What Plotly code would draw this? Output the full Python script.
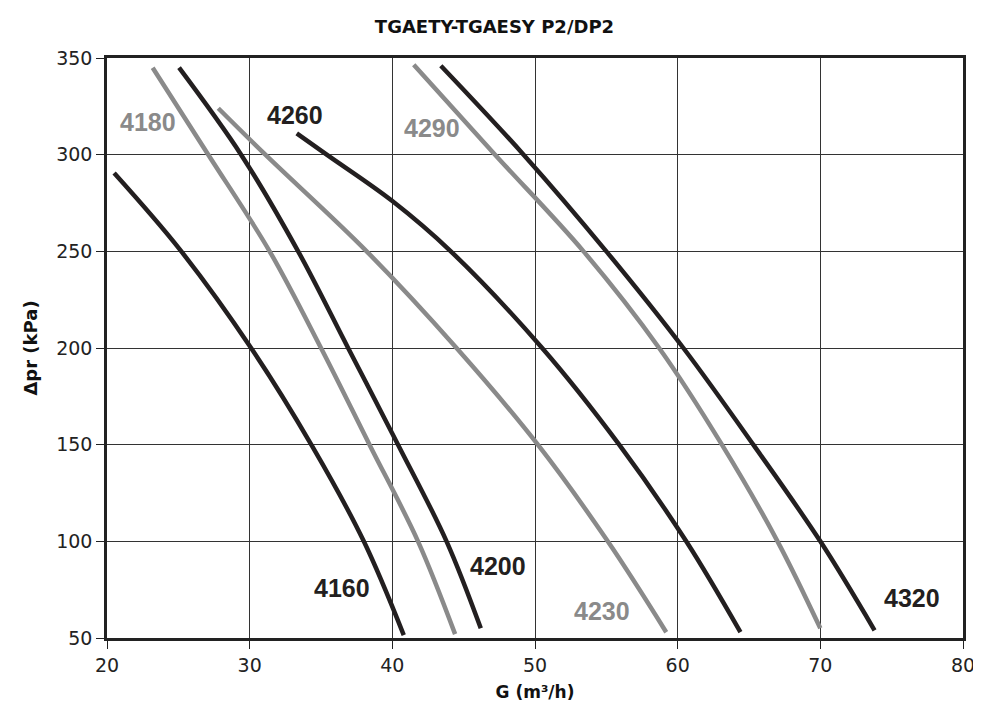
import plotly.graph_objects as go

# Curve data
x_4160 = [20.5, 25.1, 30.1, 34.4, 38.0, 40.8]
y_4160 = [290.5, 251, 200, 149, 100, 51.5]

x_4180 = [23.2, 27.1, 31.4, 35.0, 38.4, 41.8, 44.4]
y_4180 = [345, 300, 250, 200, 150, 100, 52]

x_4200 = [25.05, 29.4, 33.4, 36.9, 40.4, 43.8, 46.2]
y_4200 = [345, 300, 250, 200, 150, 100, 55]

x_4230 = [27.8, 31.1, 38.2, 44.5, 50.2, 55.1, 59.2]
y_4230 = [324, 300, 250, 200, 150, 100, 53]

x_4260 = [33.3, 35.4, 40.0, 44.1, 50.5, 55.9, 60.6, 64.4]
y_4260 = [311, 300, 276, 250, 200, 150, 100, 53]

x_4290 = [41.5, 47.2, 53.4, 58.7, 63.1, 67.0, 70.0]
y_4290 = [346.5, 300, 250, 200, 150, 100, 55]

x_4320 = [43.4, 49.2, 55.0, 60.4, 65.3, 70.0, 73.8]
y_4320 = [346, 300, 250, 200, 150, 100, 54]

series_names = ["4160", "4180", "4200", "4230", "4260", "4290", "4320"]
label_x = [36.5, 22.85, 47.4, 54.7, 33.2, 42.8, 76.4]
label_y = [75.7, 316.7, 87, 64, 320.3, 313.6, 70.8]

x_ticks = [20, 30, 40, 50, 60, 70, 80]
y_ticks = [50, 100, 150, 200, 250, 300, 350]

BLACK = "#231f20"
GRAY = "#8a8a8a"

data = [
    (x_4160, y_4160, BLACK),
    (x_4180, y_4180, GRAY),
    (x_4200, y_4200, BLACK),
    (x_4230, y_4230, GRAY),
    (x_4260, y_4260, BLACK),
    (x_4290, y_4290, GRAY),
    (x_4320, y_4320, BLACK),
]

fig = go.Figure()
for (xs, ys, col), name in zip(data, series_names):
    fig.add_trace(go.Scatter(
        x=xs, y=ys, mode="lines", name=name,
        line=dict(color=col, width=4.5, shape="spline", smoothing=1.0),
        showlegend=False, hoverinfo="skip",
    ))

for (xs, ys, col), name, lx, ly in zip(data, series_names, label_x, label_y):
    fig.add_annotation(
        x=lx, y=ly, text="<b>" + name + "</b>", showarrow=False,
        font=dict(family="Liberation Sans, Arial, sans-serif", size=25, color=col),
        xanchor="center", yanchor="middle",
    )

fig.update_layout(
    width=973, height=701,
    margin=dict(l=99, r=18, t=50, b=71),
    paper_bgcolor="white", plot_bgcolor="white",
    title=dict(
        text="<b>TGAETY-TGAESY P2/DP2</b>",
        x=0.5, xanchor="center", y=1 - 19 / 701, yanchor="middle",
        font=dict(family="DejaVu Sans, sans-serif", size=18, color="#111111"),
    ),
    font=dict(family="Liberation Sans, Arial, sans-serif", color="#222222"),
)

fig.update_xaxes(
    range=[20, 80], tickvals=x_ticks, automargin=False,
    showgrid=True, gridcolor="#333333", gridwidth=1,
    showline=True, linecolor="#222222", linewidth=2.5, mirror=True,
    ticks="outside", ticklen=8, tickcolor="#222222",
    tickfont=dict(family="DejaVu Sans, sans-serif", size=19, color="#222222"),
    zeroline=False,
    title=dict(text="<b>G (m³/h)</b>",
               font=dict(family="DejaVu Sans, sans-serif", size=17, color="#111111"),
               standoff=12),
)
fig.update_yaxes(
    range=[50, 350], tickvals=y_ticks, automargin=False,
    showgrid=True, gridcolor="#333333", gridwidth=1,
    showline=True, linecolor="#222222", linewidth=2.5, mirror=True,
    ticks="outside", ticklen=8, tickcolor="#222222",
    tickfont=dict(family="DejaVu Sans, sans-serif", size=19, color="#222222"),
    zeroline=False,
    title=dict(text="<b>Δpr (kPa)</b>",
               font=dict(family="DejaVu Sans, sans-serif", size=18, color="#111111"),
               standoff=14),
)

fig.write_html("out.html")
